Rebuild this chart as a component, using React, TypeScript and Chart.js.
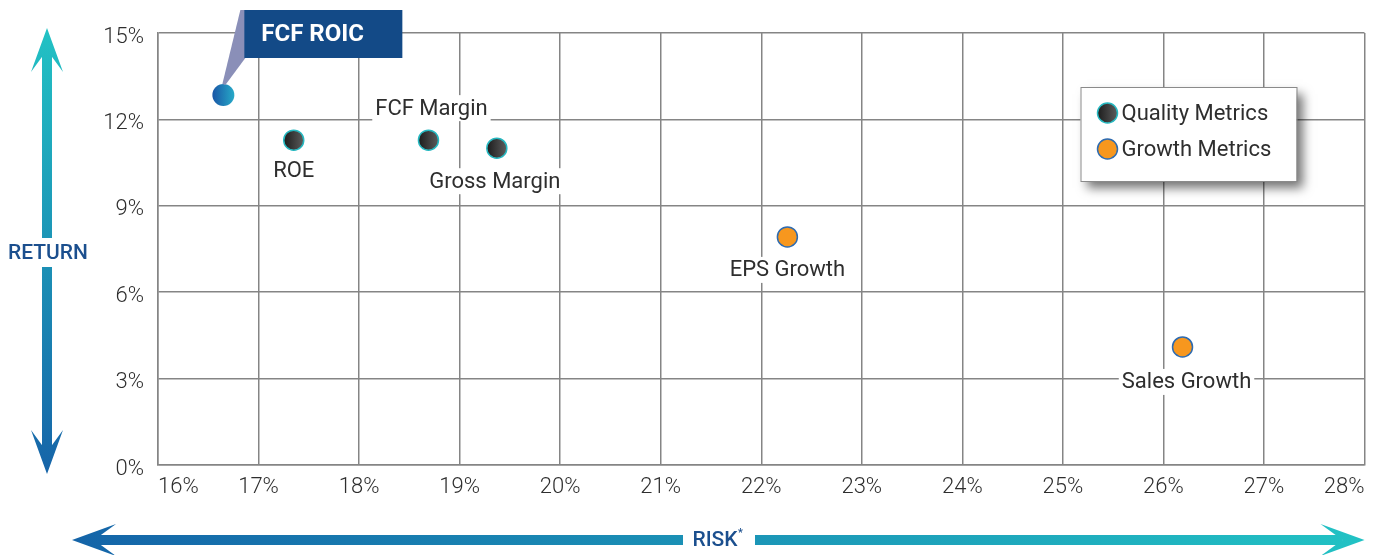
import React, { useEffect, useRef } from "react";
import { Chart, registerables } from "chart.js";
Chart.register(...registerables);

// ---- data ----
const qualityNames = ["ROE", "FCF Margin", "Gross Margin"];
const qualityRisk = [17.35, 18.69, 19.37];
const qualityReturn = [11.28, 11.28, 11.0];
const growthNames = ["EPS Growth", "Sales Growth"];
const growthRisk = [22.26, 26.19];
const growthReturn = [7.92, 4.1];
const highlightNames = ["FCF ROIC"];
const highlightRisk = [16.65];
const highlightReturn = [12.85];
const legendLabels = ["Quality Metrics", "Growth Metrics"];
const riskMin = 16;
const riskMax = 28;
const returnMin = 0;
const returnMax = 15;
const returnStep = 3;
const xAxisTitle = "RISK";
const yAxisTitle = "RETURN";

// ---- styles ----
const FONT = "Roboto, 'Open Sans', sans-serif";
const GRID = "#858585";
const TEXT = "#2e2e2e";
const TITLE_BLUE = "#1b4f8e";
const labelOffsets: Record<string, [number, number]> = {
  ROE: [0, 30],
  "FCF Margin": [3, -32],
  "Gross Margin": [-2, 33],
  "EPS Growth": [0, 33],
  "Sales Growth": [4, 35],
};

function gradFill(colors: [string, string]) {
  return (c: any) => {
    const chart = c.chart;
    if (!chart.chartArea || c.type !== "data" || !c.raw) return colors[0];
    const px = chart.scales.x.getPixelForValue(c.raw.x);
    const g = chart.ctx.createLinearGradient(px - 10, 0, px + 10, 0);
    g.addColorStop(0, colors[0]);
    g.addColorStop(1, colors[1]);
    return g;
  };
}

const overlayPlugin = {
  id: "overlay",
  afterDatasetsDraw(chart: any) {
    const { ctx } = chart;
    const xs = chart.scales.x;
    const ys = chart.scales.y;
    ctx.save();
    ctx.font = `400 22px ${FONT}`;
    ctx.textAlign = "center";
    ctx.textBaseline = "middle";
    const drawLabel = (name: string, rx: number, ry: number) => {
      const off = labelOffsets[name] || [0, 30];
      const x = xs.getPixelForValue(rx) + off[0];
      const y = ys.getPixelForValue(ry) + off[1];
      const w = ctx.measureText(name).width;
      ctx.fillStyle = "#fff";
      ctx.fillRect(x - w / 2 - 3, y - 13, w + 6, 26);
      ctx.fillStyle = TEXT;
      ctx.fillText(name, x, y + 1);
    };
    qualityNames.forEach((n, i) => drawLabel(n, qualityRisk[i], qualityReturn[i]));
    growthNames.forEach((n, i) => drawLabel(n, growthRisk[i], growthReturn[i]));
    ctx.restore();
  },
  afterDraw(chart: any) {
    const { ctx, chartArea } = chart;
    const xs = chart.scales.x;
    const ys = chart.scales.y;
    ctx.save();

    // ---- callout for highlight ----
    const hx = xs.getPixelForValue(highlightRisk[0]);
    const hy = ys.getPixelForValue(highlightReturn[0]);
    const bx = hx + 21;
    const by = 10;
    const bw = 158;
    const bh = 48;
    ctx.fillStyle = "#8a8fb8";
    ctx.beginPath();
    ctx.moveTo(bx - 4, by);
    ctx.lineTo(bx + 1, by);
    ctx.lineTo(bx + 1, by + bh);
    ctx.lineTo(hx + 2, hy - 10);
    ctx.lineTo(hx - 1, hy - 11);
    ctx.closePath();
    ctx.fill();
    ctx.fillStyle = "#134a87";
    ctx.fillRect(bx, by, bw, bh);
    ctx.fillStyle = "#fff";
    ctx.font = `700 24px ${FONT}`;
    ctx.textAlign = "left";
    ctx.textBaseline = "middle";
    ctx.fillText(highlightNames[0], bx + 17, by + bh / 2 + 1);

    // ---- legend box ----
    const lx = chartArea.right - 284;
    const ly = chartArea.top + 54;
    const lw = 216;
    const lh = 94;
    ctx.save();
    ctx.shadowColor = "rgba(0,0,0,0.55)";
    ctx.shadowBlur = 10;
    ctx.shadowOffsetX = 6;
    ctx.shadowOffsetY = 7;
    ctx.fillStyle = "#fff";
    ctx.fillRect(lx, ly, lw, lh);
    ctx.restore();
    ctx.strokeStyle = "#8a8a8a";
    ctx.lineWidth = 1;
    ctx.strokeRect(lx + 0.5, ly + 0.5, lw, lh);
    const legendStyles = [
      { fill: ["#1c1c1c", "#5c5c5c"], border: "#26b8c0" },
      { fill: ["#f7971e", "#f7971e"], border: "#2e6bb0" },
    ];
    legendLabels.forEach((lab, i) => {
      const cy = ly + 26 + i * 36;
      const cx = lx + 27;
      const g = ctx.createLinearGradient(cx - 10, 0, cx + 10, 0);
      g.addColorStop(0, legendStyles[i].fill[0]);
      g.addColorStop(1, legendStyles[i].fill[1]);
      ctx.beginPath();
      ctx.arc(cx, cy, 10, 0, Math.PI * 2);
      ctx.fillStyle = g;
      ctx.fill();
      ctx.lineWidth = 1.5;
      ctx.strokeStyle = legendStyles[i].border;
      ctx.stroke();
      ctx.fillStyle = TEXT;
      ctx.font = `400 22px ${FONT}`;
      ctx.textAlign = "left";
      ctx.textBaseline = "middle";
      ctx.fillText(lab, cx + 14, cy + 1);
    });

    // ---- vertical RETURN arrow ----
    const ax = 47;
    const top = 28;
    const bot = 474;
    const vg = ctx.createLinearGradient(0, top, 0, bot);
    vg.addColorStop(0, "#22c2c4");
    vg.addColorStop(1, "#1664a8");
    ctx.fillStyle = vg;
    const shaftW = 10;
    const headW = 32;
    const headL = 44;
    const notch = 22;
    ctx.beginPath();
    ctx.moveTo(ax, top);
    ctx.lineTo(ax + headW / 2, top + headL);
    ctx.lineTo(ax, top + notch);
    ctx.lineTo(ax - headW / 2, top + headL);
    ctx.closePath();
    ctx.fill();
    ctx.beginPath();
    ctx.moveTo(ax, bot);
    ctx.lineTo(ax + headW / 2, bot - headL);
    ctx.lineTo(ax, bot - notch);
    ctx.lineTo(ax - headW / 2, bot - headL);
    ctx.closePath();
    ctx.fill();
    const midY = 253;
    ctx.fillRect(ax - shaftW / 2, top + notch, shaftW, midY - 15 - (top + notch));
    ctx.fillRect(ax - shaftW / 2, midY + 14, shaftW, bot - notch - (midY + 14));
    ctx.fillStyle = TITLE_BLUE;
    ctx.font = `500 21px ${FONT}`;
    ctx.textAlign = "center";
    ctx.textBaseline = "middle";
    ctx.fillText(yAxisTitle, ax + 1, midY + 1);

    // ---- horizontal RISK arrow ----
    const ay = 540;
    const left = 72;
    const right = chartArea.right;
    const hg = ctx.createLinearGradient(left, 0, right, 0);
    hg.addColorStop(0, "#1464a8");
    hg.addColorStop(1, "#22c2c4");
    ctx.fillStyle = hg;
    ctx.beginPath();
    ctx.moveTo(left, ay);
    ctx.lineTo(left + headL, ay - headW / 2);
    ctx.lineTo(left + notch, ay);
    ctx.lineTo(left + headL, ay + headW / 2);
    ctx.closePath();
    ctx.fill();
    ctx.beginPath();
    ctx.moveTo(right, ay);
    ctx.lineTo(right - headL, ay - headW / 2);
    ctx.lineTo(right - notch, ay);
    ctx.lineTo(right - headL, ay + headW / 2);
    ctx.closePath();
    ctx.fill();
    const midX = 716;
    ctx.fillRect(left + notch, ay - shaftW / 2, midX - 33 - (left + notch), shaftW);
    ctx.fillRect(midX + 39, ay - shaftW / 2, right - notch - (midX + 39), shaftW);
    ctx.fillStyle = TITLE_BLUE;
    ctx.font = `500 21px ${FONT}`;
    ctx.textAlign = "center";
    ctx.fillText(xAxisTitle, midX - 1, ay + 1);
    ctx.font = `500 11px ${FONT}`;
    ctx.textAlign = "left";
    ctx.fillText("*", midX + 22, ay - 7);

    ctx.restore();
  },
};

export default function App() {
  const ref = useRef<HTMLCanvasElement>(null);
  useEffect(() => {
    document.body.style.margin = "0";
    const canvas = ref.current!;
    const toPts = (xs: number[], ys: number[]) => xs.map((x, i) => ({ x, y: ys[i] }));
    const chart = new Chart(canvas, {
      type: "scatter",
      data: {
        datasets: [
          {
            label: legendLabels[0],
            data: toPts(qualityRisk, qualityReturn),
            backgroundColor: gradFill(["#1c1c1c", "#5c5c5c"]) as any,
            borderColor: "#26b8c0",
            borderWidth: 1.5,
            pointRadius: 10,
          },
          {
            label: legendLabels[1],
            data: toPts(growthRisk, growthReturn),
            backgroundColor: "#f7971e",
            borderColor: "#2e6bb0",
            borderWidth: 1.5,
            pointRadius: 10,
          },
          {
            label: highlightNames[0],
            data: toPts(highlightRisk, highlightReturn),
            backgroundColor: gradFill(["#1a5aa8", "#26a6c6"]) as any,
            borderColor: "rgba(0,0,0,0)",
            borderWidth: 0,
            pointRadius: 11,
          },
        ],
      },
      options: {
        responsive: false,
        devicePixelRatio: 1,
        animation: false,
        events: [],
        layout: { padding: { top: 33, right: 10, left: 0, bottom: 0 } },
        plugins: {
          legend: { display: false },
          tooltip: { enabled: false },
        },
        scales: {
          x: {
            type: "linear",
            min: riskMin,
            max: riskMax,
            afterFit: (s: any) => {
              s.height = 90;
            },
            ticks: {
              stepSize: 1,
              padding: 9,
              color: TEXT,
              font: { family: FONT, size: 22, weight: 300 as any },
              callback: (v: any) => `${v}%`,
              align: "inner" as any,
              maxRotation: 0,
            },
            grid: { color: GRID, lineWidth: 1.5, drawTicks: false },
            border: { color: GRID, width: 1.5 },
          },
          y: {
            type: "linear",
            min: returnMin,
            max: returnMax,
            afterFit: (s: any) => {
              s.width = 158;
            },
            ticks: {
              stepSize: returnStep,
              padding: 14,
              labelOffset: 4,
              color: TEXT,
              font: { family: FONT, size: 22, weight: 300 as any },
              callback: (v: any) => `${v}%`,
            },
            grid: { color: GRID, lineWidth: 1.5, drawTicks: false },
            border: { color: GRID, width: 1.5 },
          },
        },
      },
      plugins: [overlayPlugin],
    });
    return () => chart.destroy();
  }, []);
  return (
    <div style={{ width: 1376, height: 555 }}>
      <canvas ref={ref} width={1376} height={555} style={{ display: "block" }} />
    </div>
  );
}
